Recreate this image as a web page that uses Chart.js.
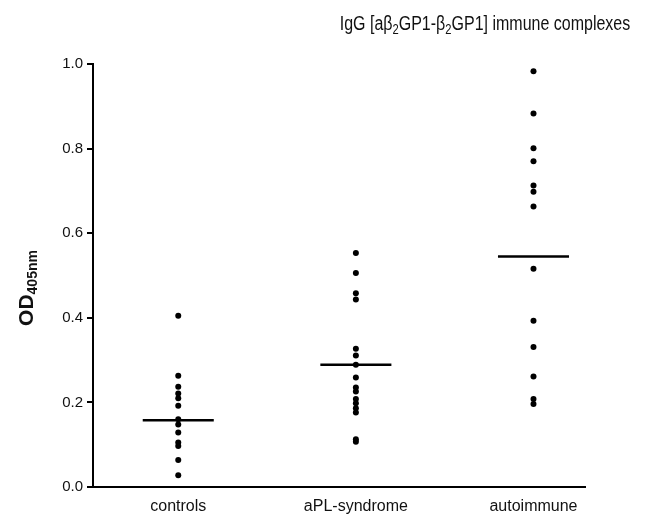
<!DOCTYPE html>
<html>
<head>
<meta charset="utf-8">
<title>IgG immune complexes</title>
<script src="https://cdn.jsdelivr.net/npm/chart.js@4.4.0/dist/chart.umd.min.js"></script>
<style>
  body { margin: 0; background: #fff; }
  #wrap { width: 646px; height: 524px; }
</style>
</head>
<body>
<div id="wrap"><canvas id="myChart" width="646" height="524"></canvas></div>
<script>
// DATA
const groups = ['controls', 'aPL-syndrome', 'autoimmune'];
const controls = [0.405, 0.263, 0.237, 0.221, 0.210, 0.192, 0.160, 0.148, 0.129, 0.105, 0.097, 0.064, 0.028];
const aplSyndrome = [0.553, 0.506, 0.458, 0.443, 0.327, 0.311, 0.289, 0.259, 0.235, 0.226, 0.208, 0.198, 0.186, 0.176, 0.113, 0.107];
const autoimmune = [0.983, 0.883, 0.801, 0.770, 0.713, 0.698, 0.663, 0.516, 0.393, 0.331, 0.261, 0.208, 0.196];
const medians = [0.158, 0.289, 0.545];
const yTicks = [0, 0.2, 0.4, 0.6, 0.8, 1.0];

// titles with subscripts: [text, isSub]
const titleParts = [['IgG [a\u03b2', false], ['2', true], ['GP1-\u03b2', false], ['2', true], ['GP1] immune complexes', false]];
const yTitleParts = [['OD', false], ['405nm', true]];

const FONT = '"Liberation Sans", Arial, sans-serif';
const halfWidth = 0.2; // median bar half length in category units

// points
const allValues = [controls, aplSyndrome, autoimmune];
const dots = [];
allValues.forEach((arr, i) => {
    arr.forEach(v => dots.push({ x: i, y: v }));
});

const medianSets = medians.map((m, i) => ({
    type: 'line',
    data: [{ x: i - halfWidth, y: m }, { x: i + halfWidth, y: m }],
    borderColor: '#000',
    borderWidth: 2.5,
    pointRadius: 0,
    fill: false
}));

// draws a string made of normal + subscript bits, centered on x
function drawRich(ctx, parts, x, y, size, subSize, weight) {
    let total = 0;
    parts.forEach(p => {
        ctx.font = weight + ' ' + (p[1] ? subSize : size) + 'px ' + FONT;
        total += ctx.measureText(p[0]).width;
    });
    let cx = x - total / 2;
    ctx.textAlign = 'left';
    ctx.textBaseline = 'alphabetic';
    parts.forEach(p => {
        ctx.font = weight + ' ' + (p[1] ? subSize : size) + 'px ' + FONT;
        ctx.fillText(p[0], cx, p[1] ? y + size * 0.2 : y);
        cx += ctx.measureText(p[0]).width;
    });
}

const titlesPlugin = {
    id: 'titles',
    afterDraw(chart) {
        const ctx = chart.ctx;
        ctx.save();
        ctx.fillStyle = '#111';
        // title looks squeezed in the original
        ctx.translate(485, 30);
        ctx.scale(0.8, 1);
        drawRich(ctx, titleParts, 0, 0, 20, 14, 'normal');
        ctx.restore();

        // y axis title, rotated
        ctx.save();
        ctx.fillStyle = '#111';
        ctx.translate(33, 288);
        ctx.rotate(-Math.PI / 2);
        drawRich(ctx, yTitleParts, 0, 0, 21, 14, 'bold');
        ctx.restore();
    }
};

new Chart(document.getElementById('myChart'), {
    type: 'scatter',
    data: {
        datasets: [{
            label: 'OD',
            data: dots,
            backgroundColor: '#000',
            borderColor: '#000',
            pointRadius: 3,
            borderWidth: 0
        }, ...medianSets]
    },
    options: {
        responsive: false,
        animation: false,
        layout: { padding: { top: 64, right: 61, left: 0, bottom: 0 } },
        plugins: {
            legend: { display: false },
            tooltip: { enabled: false }
        },
        scales: {
            x: {
                type: 'linear',
                min: -0.48,
                max: 2.29,
                afterBuildTicks: axis => { axis.ticks = groups.map((g, i) => ({ value: i })); },
                afterFit: axis => { axis.height = 524 - 487; },
                ticks: {
                    callback: v => groups[v],
                    color: '#111',
                    font: { family: FONT, size: 16 },
                    padding: 10,
                    maxRotation: 0,
                    autoSkip: false
                },
                grid: { display: false, drawTicks: false },
                border: { color: '#000', width: 2 }
            },
            y: {
                min: 0,
                max: 1,
                afterBuildTicks: axis => { axis.ticks = yTicks.map(v => ({ value: v })); },
                afterFit: axis => { axis.width = 93; },
                ticks: {
                    callback: v => v.toFixed(1),
                    color: '#111',
                    font: { family: FONT, size: 15 },
                    padding: 4
                },
                grid: { drawOnChartArea: false, drawTicks: true, tickLength: 6, color: '#000', lineWidth: 2 },
                border: { color: '#000', width: 2 }
            }
        }
    },
    plugins: [titlesPlugin]
});
</script>
</body>
</html>
